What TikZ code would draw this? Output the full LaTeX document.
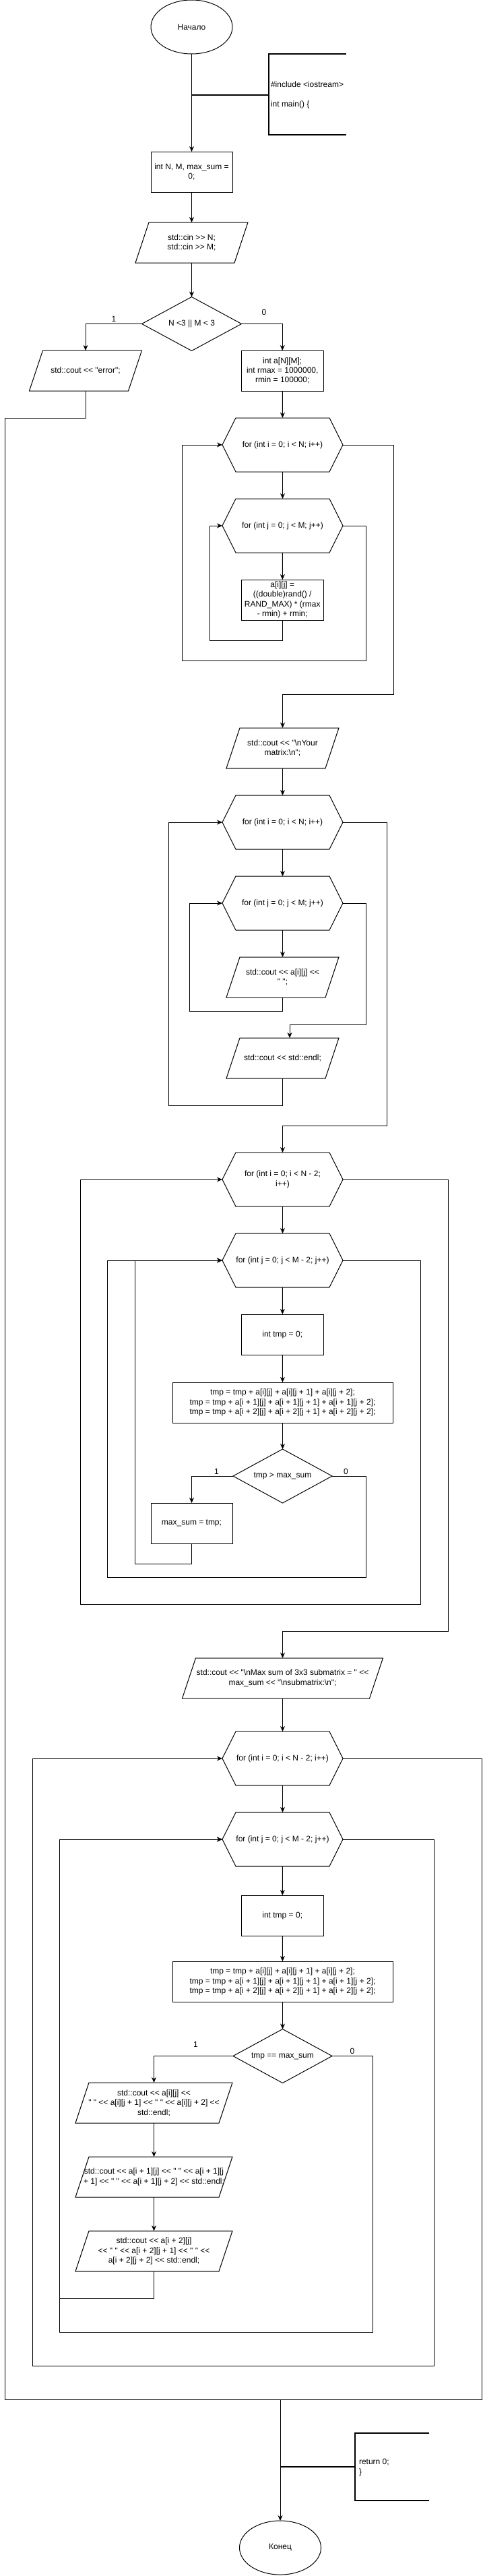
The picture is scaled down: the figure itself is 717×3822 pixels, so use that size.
\documentclass[tikz,border=0pt]{standalone}
\usepackage{fontspec}
\setmainfont{Liberation Sans}[Ligatures=TeXOff]
\usetikzlibrary{arrows.meta,shapes.geometric}
\newcommand{\hexout}[1]{\draw[ln] ([xshift=20pt]#1.north west) -- ([xshift=-20pt]#1.north east) -- (#1.east) -- ([xshift=-20pt]#1.south east) -- ([xshift=20pt]#1.south west) -- (#1.west) -- cycle;}
\newcommand{\parout}[1]{\draw[ln] ([xshift=10pt]#1.north west) -- ([xshift=10pt]#1.north east) -- ([xshift=-10pt]#1.south east) -- ([xshift=-10pt]#1.south west) -- cycle;}
\tikzset{
  every node/.style={font=\fontsize{12pt}{14.4pt}\selectfont, align=center, inner sep=0pt, outer sep=0pt},
  ln/.style={line width=1pt, black},
  arr/.style={ln, -{Stealth[length=8pt,width=7pt,inset=2.5pt]}},
  brk/.style={line width=2pt, black},
  term/.style={draw, line width=1pt, ellipse, minimum width=121pt, minimum height=80pt},
  proc/.style={draw, line width=1pt, rectangle, minimum width=121.5pt, minimum height=60pt},
  io/.style={minimum height=60pt},
  loopn/.style={minimum width=179pt, minimum height=80pt},
  dec/.style={draw, line width=1pt, diamond, aspect=1.85, minimum width=148pt, minimum height=80pt},
  lbl/.style={},
  note/.style={anchor=west, align=left},
}
\begin{document}
\begin{tikzpicture}[x=1pt,y=-1pt]
\fill[white] (0,0) rectangle (717,3822);
\useasboundingbox (0,0) rectangle (717,3822);

% ---------- nodes ----------
\node[term] (start) at (284.5,40) {Начало};
\node[proc, minimum width=121pt] (box1) at (284.5,255) {int N, M, max\_sum =\\0;};
\node[io, minimum width=147pt] (par1) at (284.5,360) {std::cin >> N;\\std::cin >> M;};
\node[dec] (dia1) at (284.5,480.5) {N <3 || M < 3};
\node[lbl] (l1a) at (169,473) {1};
\node[lbl] (l0a) at (392,463) {0};
\node[io, minimum width=147pt] (errpar) at (127,550) {std::cout << "error";};
\node[proc] (arr) at (419.25,550) {int a[N][M];\\int rmax = 1000000,\\rmin = 100000;};
\node[loopn] (for1) at (419.5,660) {for (int i = 0; i < N; i++)};
\node[loopn] (for2) at (419.5,780) {for (int j = 0; j < M; j++)};
\node[proc] (fill) at (419.25,890) {a[i][j] =\\((double)rand() /\\RAND\_MAX) * (rmax\\- rmin) + rmin;};
\node[io, minimum width=147pt] (yourm) at (419.5,1110) {std::cout << "\textbackslash nYour\\matrix:\textbackslash n";};
\node[loopn] (for3) at (419.5,1220) {for (int i = 0; i < N; i++)};
\node[loopn] (for4) at (419.5,1340) {for (int j = 0; j < M; j++)};
\node[io, minimum width=147pt] (pr) at (419.5,1450) {std::cout << a[i][j] <<\\" ";};
\node[io, minimum width=147pt] (endl) at (419.5,1570) {std::cout << std::endl;};
\node[loopn] (for5) at (419.5,1750) {for (int i = 0; i < N - 2;\\i++)};
\node[loopn] (for6) at (419.5,1870) {for (int j = 0; j < M - 2; j++)};
\node[proc] (tmp1) at (419.25,1980) {int tmp = 0;};
\node[proc, minimum width=327pt] (sum1) at (419.5,2081) {tmp = tmp + a[i][j] + a[i][j + 1] + a[i][j + 2];\\tmp = tmp + a[i + 1][j] + a[i + 1][j + 1] + a[i + 1][j + 2];\\tmp = tmp + a[i + 2][j] + a[i + 2][j + 1] + a[i + 2][j + 2];};
\node[dec, minimum width=147pt] (dia2) at (419.5,2190) {tmp > max\_sum};
\node[lbl] (l1b) at (321.5,2183) {1};
\node[lbl] (l0b) at (513.5,2183) {0};
\node[proc, minimum width=121pt] (ms) at (284.5,2260) {max\_sum = tmp;};
\node[io, minimum width=278pt] (maxp) at (419.5,2490) {std::cout << "\textbackslash nMax sum of 3x3 submatrix = " <<\\max\_sum << "\textbackslash nsubmatrix:\textbackslash n";};
\node[loopn] (for7) at (419.5,2609) {for (int i = 0; i < N - 2; i++)};
\node[loopn] (for8) at (419.5,2729) {for (int j = 0; j < M - 2; j++)};
\node[proc] (tmp2) at (419.25,2842) {int tmp = 0;};
\node[proc, minimum width=327pt] (sum2) at (419.5,2940) {tmp = tmp + a[i][j] + a[i][j + 1] + a[i][j + 2];\\tmp = tmp + a[i + 1][j] + a[i + 1][j + 1] + a[i + 1][j + 2];\\tmp = tmp + a[i + 2][j] + a[i + 2][j + 1] + a[i + 2][j + 2];};
\node[dec, minimum width=147pt] (dia3) at (419.5,3050.5) {tmp == max\_sum};
\node[lbl] (l1c) at (290.5,3033) {1};
\node[lbl] (l0c) at (523,3043) {0};
\node[io, minimum width=213pt] (p1) at (228.5,3120) {std::cout << a[i][j] <<\\" " << a[i][j + 1] << " " << a[i][j + 2] <<\\std::endl;};
\node[io, minimum width=213pt] (p2) at (228.5,3230) {std::cout << a[i + 1][j] << " " << a[i + 1][j\\+ 1] << " " << a[i + 1][j + 2] << std::endl;};
\node[io, minimum width=213pt] (p3) at (228.5,3340) {std::cout << a[i + 2][j]\\<< " " << a[i + 2][j + 1] << " " <<\\a[i + 2][j + 2] << std::endl;};
\node[term] (end) at (416,3780) {Конец};

% annotations
\node[note] (hdr) at (402,141) {\#include <iostream>\\[14.4pt]int main() \{};
\node[note] (ftr) at (533,3661) {return 0;\\\}};
\coordinate (b1) at (284.5,141);
\coordinate (b1m) at (399,141);
\coordinate (b2) at (416,3660);
\coordinate (b2m) at (527,3660);
\coordinate (merge) at (416,3560);

% ---------- outlines ----------
\parout{par1}\parout{errpar}\parout{yourm}\parout{pr}\parout{endl}
\parout{maxp}\parout{p1}\parout{p2}\parout{p3}
\hexout{for1}\hexout{for2}\hexout{for3}\hexout{for4}
\hexout{for5}\hexout{for6}\hexout{for7}\hexout{for8}

% ---------- brackets ----------
\draw[brk] (b1) -- (b1m);
\draw[brk] (513.5,80) -- (399,80) -- (399,200) -- (513.5,200);
\draw[brk] (b2) -- (b2m);
\draw[brk] (637,3610) -- (527,3610) -- (527,3710) -- (637,3710);

% ---------- connectors ----------
\draw[arr] (start) -- (box1);
\draw[arr] (box1) -- (par1);
\draw[arr] (par1) -- (dia1);
\draw[arr] (dia1.west) -| (errpar.north);
\draw[arr] (dia1.east) -| (arr.north);
\draw[arr] (arr) -- (for1);
\draw[arr] (for1) -- (for2);
\draw[arr] (for2) -- (fill);
\draw[arr] (fill.south) |- (311,950) |- (for2.west);
\draw[arr] (for2.east) -| (543.6,980) -| (270.6,660) -- (for1.west);
\draw[arr] (for1.east) -| (584,1030) -| (yourm.north);
\draw[arr] (yourm) -- (for3);
\draw[arr] (for3) -- (for4);
\draw[arr] (for4) -- (pr);
\draw[arr] (pr.south) |- (281,1500) |- (for4.west);
\draw[arr] (for4.east) -| (543.6,1520) -| ([xshift=10.5pt]endl.north);
\draw[arr] (endl.south) |- (250,1640) |- (for3.west);
\draw[arr] (for3.east) -| (574,1670) -| (for5.north);
\draw[arr] (for5) -- (for6);
\draw[arr] (for6) -- (tmp1);
\draw[arr] (tmp1) -- (sum1);
\draw[arr] (sum1) -- (dia2);
\draw[arr] (dia2.west) -| (ms.north);
\draw[arr] (ms.south) |- (200,2320) |- (for6.west);
\draw[arr] (dia2.east) -| (543.6,2340) -| (159,1870) -- (for6.west);
\draw[arr] (for6.east) -| (624.5,2380) -| (119,1750) -- (for5.west);
\draw[arr] (for5.east) -| (665,2420) -| (maxp.north);
\draw[arr] (maxp) -- (for7);
\draw[arr] (for7) -- (for8);
\draw[arr] (for8) -- (tmp2);
\draw[arr] (tmp2) -- (sum2);
\draw[arr] (sum2) -- (dia3);
\draw[arr] (dia3.west) -| (p1.north);
\draw[arr] (p1) -- (p2);
\draw[arr] (p2) -- (p3);
\draw[arr] (p3.south) |- (88,3410) |- (for8.west);
\draw[arr] (dia3.east) -| (553.7,3460) -| (88,2729) -- (for8.west);
\draw[arr] (for8.east) -| (644.5,3510) -| (48,2609) -- (for7.west);
\draw[ln] (for7.east) -| (715.6,3560) -- (merge);
\draw[ln] (errpar.south) |- (7.4,620) |- (merge);
\draw[arr] (merge) -- (end);
\end{tikzpicture}
\end{document}
